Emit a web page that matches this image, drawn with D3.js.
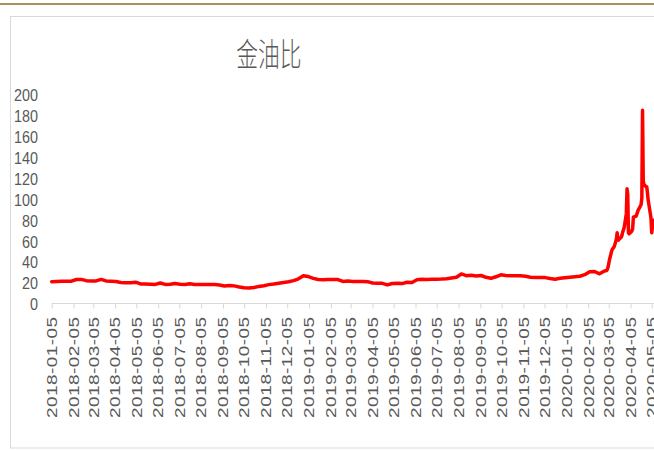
<!DOCTYPE html>
<html><head><meta charset="utf-8">
<script src="https://cdn.jsdelivr.net/npm/d3@7"></script>
<style>html,body{margin:0;padding:0;background:#fff;overflow:hidden}</style>
</head><body>
<svg id="c" width="654" height="450"></svg>
<script>
const chartTitle = "金油比";
const weeklyStart = "2018-01-05";
// weekly ratio readings, 2018-01-05 .. 2020-02-28
const weeklyValues = [
  21.3, 21.5, 21.6, 21.7, 21.8, 23.4, 23.5, 22.3, 22.0, 22.0,
  23.5, 22.0, 21.8, 21.5, 20.6, 20.4, 20.3, 20.8, 19.2, 19.0,
  18.8, 18.7, 20.0, 18.7, 18.8, 19.5, 18.8, 18.7, 19.3, 18.7,
  18.6, 18.6, 18.5, 18.5, 18.2, 17.2, 17.6, 17.3, 16.3, 15.5,
  15.2, 15.8, 16.8, 17.5, 18.5, 19.0, 19.8, 20.5, 21.2, 22.3,
  24.0, 26.9, 26.2, 24.5, 23.4, 23.2, 23.4, 23.5, 23.3, 21.5,
  22.0, 21.5, 21.4, 21.5, 21.3, 20.0, 19.8, 19.7, 18.2, 19.6,
  19.8, 19.5, 20.8, 20.6, 23.2, 23.6, 23.5, 23.6, 23.7, 23.8,
  24.2, 24.8, 25.5, 28.7, 27.0, 27.5, 26.8, 27.2, 25.5, 24.5,
  26.0, 27.9, 27.3, 27.0, 27.0, 26.9, 26.5, 25.6, 25.4, 25.2,
  25.2, 24.3, 23.6, 24.5, 25.0, 25.5, 26.0, 26.5, 28.0, 30.8,
  31.0, 28.8, 31.5
];
// daily readings, March - May 2020
const dailyDates = [
  "2020-03-02","2020-03-03","2020-03-04","2020-03-05","2020-03-06",
  "2020-03-09","2020-03-10","2020-03-11","2020-03-12","2020-03-13",
  "2020-03-16","2020-03-17","2020-03-18","2020-03-19","2020-03-20",
  "2020-03-23","2020-03-24","2020-03-25","2020-03-26","2020-03-27",
  "2020-03-30","2020-03-31","2020-04-01","2020-04-02","2020-04-03",
  "2020-04-06","2020-04-07","2020-04-08","2020-04-09",
  "2020-04-13","2020-04-14","2020-04-15","2020-04-16","2020-04-17",
  "2020-04-20","2020-04-21","2020-04-22","2020-04-23","2020-04-24",
  "2020-04-27","2020-04-28","2020-04-29","2020-04-30","2020-05-01",
  "2020-05-04","2020-05-05","2020-05-06","2020-05-07","2020-05-08"
];
const dailyValues = [
  32, 33, 35, 38, 42,
  50, 52, 53, 54, 55,
  62, 68, 62, 61, 62,
  64, 66, 69, 71, 73,
  86, 110, 105, 68, 67,
  69, 70, 72, 83,
  84, 86, 88, 90, 91,
  95, 101, 185, 118, 114,
  112, 112, 106, 99, 95,
  82, 68, 74, 78, 80
];
const yTicks = [0, 20, 40, 60, 80, 100, 120, 140, 160, 180, 200];
const xTickLabels = [
  "2018-01-05","2018-02-05","2018-03-05","2018-04-05","2018-05-05","2018-06-05",
  "2018-07-05","2018-08-05","2018-09-05","2018-10-05","2018-11-05","2018-12-05",
  "2019-01-05","2019-02-05","2019-03-05","2019-04-05","2019-05-05","2019-06-05",
  "2019-07-05","2019-08-05","2019-09-05","2019-10-05","2019-11-05","2019-12-05",
  "2020-01-05","2020-02-05","2020-03-05","2020-04-05","2020-05-05"
];

const parse = d3.utcParse("%Y-%m-%d");
const fmt = d3.utcFormat("%Y-%m-%d");
const start = parse(weeklyStart);
const data = weeklyValues.map((v, i) => ({date: d3.utcDay.offset(start, i * 7), value: v}))
  .concat(dailyDates.map((d, i) => ({date: parse(d), value: dailyValues[i]})));

const svg = d3.select("#c");
const W = 654, H = 450;
const textColor = "#595959";

// top rule and chart frame
svg.append("rect").attr("x", 0).attr("y", 3).attr("width", W).attr("height", 2).attr("fill", "#a8915d");
svg.append("rect").attr("x", 10.5).attr("y", 16.5).attr("width", 700).attr("height", 431.5)
  .attr("fill", "#fff").attr("stroke", "#d9d9d9").attr("stroke-width", 1);

const x = d3.scaleUtc().domain([parse(xTickLabels[0]), parse(xTickLabels[xTickLabels.length - 1])]).range([51.7, 651.7]);
const y = d3.scaleLinear().domain([0, 200]).range([304, 94.5]);

// title
svg.append("text").text(chartTitle)
  .attr("transform", "translate(269,66) scale(0.68,1)")
  .attr("text-anchor", "middle")
  .attr("font-family", "'Noto Sans CJK SC', sans-serif")
  .attr("font-weight", 300)
  .attr("font-size", 32)
  .attr("fill", textColor);

// y axis (labels only)
const yAxis = svg.append("g").attr("transform", "translate(38,0)")
  .call(d3.axisLeft(y).tickValues(yTicks).tickSize(0).tickPadding(0).tickFormat(d3.format("d")));
yAxis.select(".domain").remove();
yAxis.selectAll("text")
  .attr("x", 0).attr("dy", null)
  .attr("dominant-baseline", "central")
  .attr("transform", "scale(0.87,1)")
  .attr("font-family", "'Liberation Sans', Arial, sans-serif")
  .attr("font-size", 16.5)
  .attr("fill", textColor);

// x axis
const xAxis = svg.append("g").attr("transform", "translate(0,303.5)")
  .call(d3.axisBottom(x).tickValues(xTickLabels.map(parse)).tickSize(5).tickSizeOuter(0).tickFormat(fmt));
xAxis.select(".domain").remove();
xAxis.selectAll(".tick line").attr("stroke", "#d9d9d9");
xAxis.append("line").attr("x1", 51.7).attr("x2", 700).attr("y1", 0).attr("y2", 0).attr("stroke", "#d9d9d9");
xAxis.selectAll("text")
  .attr("y", null).attr("dy", null)
  .attr("text-anchor", "end")
  .attr("dominant-baseline", "central")
  .attr("transform", "translate(0,13.5) rotate(-90) scale(1,0.78)")
  .attr("font-family", "'Liberation Sans', Arial, sans-serif")
  .attr("font-size", 19)
  .attr("textLength", 101)
  .attr("lengthAdjust", "spacing")
  .attr("fill", textColor);

// line
svg.append("path").datum(data)
  .attr("fill", "none")
  .attr("stroke", "#ff0000")
  .attr("stroke-width", 3.5)
  .attr("stroke-linejoin", "round")
  .attr("stroke-linecap", "round")
  .attr("d", d3.line().x(d => x(d.date)).y(d => y(d.value)));
</script>
</body></html>
